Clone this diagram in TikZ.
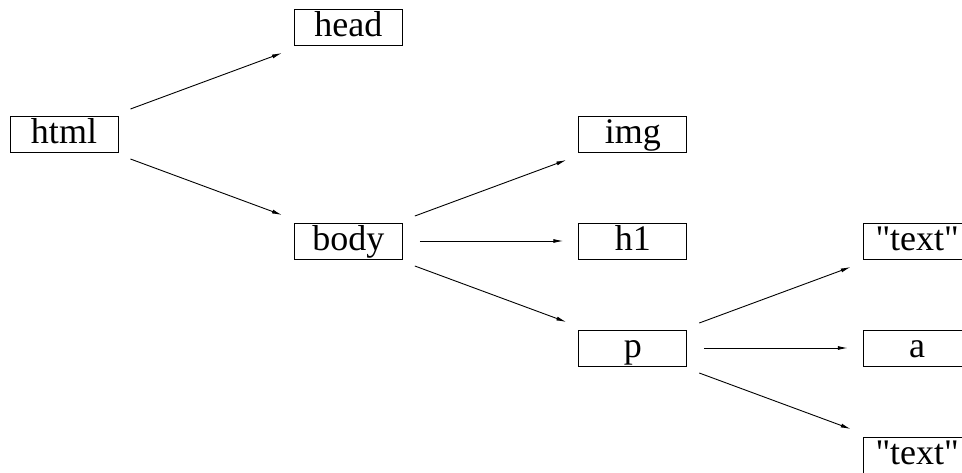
\documentclass[tikz,border=0pt]{standalone}
\usepackage{fontspec}
\setmainfont{Liberation Serif}
\usetikzlibrary{arrows.meta}
\tikzstyle{arrow} = [line width=0.9pt,-{Latex[length=10pt,width=4pt]}]

\begin{document}
\begin{tikzpicture}
        [
            x=284.4pt, y=107pt,
            tag/.style={rectangle,draw=black,line width=0.9pt,minimum width=108pt,minimum height=36pt,
                inner xsep=2pt,inner ysep=2pt,text height=25pt,text depth=7pt,font=\fontsize{36}{42}\selectfont},
        ]
    \useasboundingbox (-64pt,134pt) rectangle (898pt,-338pt);

    \node[tag] (html) at (0,0) {html};
    \node[tag] (head) at (1,1) {head};
    \node[tag] (body) at (1,-1) {body};
    \node[tag] (img) at (2,0) {img};
    \node[tag] (h1) at (2,-1) {h1};
    \node[tag] (p) at (2,-2) {p};
    \node[tag] (text1) at (3,-1) {\textquotedbl text\textquotedbl};
    \node[tag] (a) at (3,-2) {a};
    \node[tag] (text2) at (3,-3) {\textquotedbl text\textquotedbl};

    \foreach \from/\to in {html/head, body/img, p/text1}
        \draw[arrow] ([shift={(12pt,25pt)}]\from.east) -- ([shift={(-12pt,-26pt)}]\to.west);
    \foreach \from/\to in {html/body, body/p, p/text2}
        \draw[arrow] ([shift={(12pt,-25pt)}]\from.east) -- ([shift={(-12pt,26pt)}]\to.west);
    \foreach \from/\to in {body/h1, p/a}
        \draw[arrow] ([xshift=17pt]\from.east) -- ([xshift=-15pt]\to.west);
\end{tikzpicture}
\end{document}
